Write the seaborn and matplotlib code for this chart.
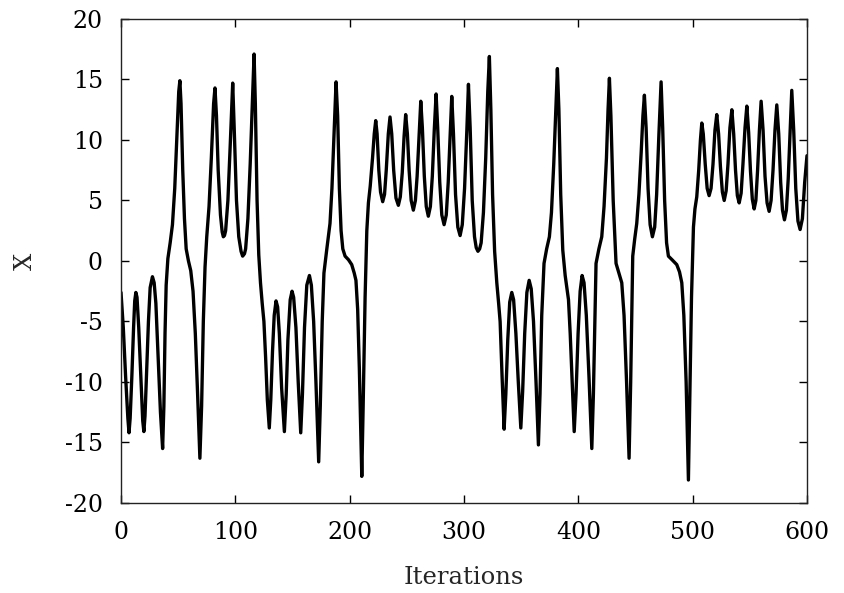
import matplotlib
matplotlib.use("Agg")
import matplotlib.pyplot as plt
import seaborn as sns

# values (iteration, X)
iterations = [
    0, 2, 4, 6, 7, 8, 9.5, 11, 12, 13, 14, 15.5, 17.5, 19, 20, 21, 22.5, 24, 25.5, 27.5,
    29, 30.5, 32.5, 34.5, 36.4, 37.5, 38.5, 39.5, 41, 43, 45, 47, 49, 50.5, 51.5, 52.5,
    54, 55.5, 57, 59, 61, 63, 65, 67, 69, 70.5, 72, 73.5, 75, 77, 79, 81, 82.2, 83.5,
    85, 87, 88.5, 89.5, 90.5, 91.5, 93.5, 95.5, 97.7, 99, 101, 103, 105, 106.4, 108, 109, 111, 113, 115, 116.4,
    117.5, 119, 120.5, 122, 123.5, 125, 126.5, 128, 129.7, 131, 132.5, 134, 135.6, 137,
    138.5, 140.5, 142.9, 144.5, 146, 148, 149.6, 151, 153, 155, 157.2, 158.7, 160.5, 162.5,
    164.8, 166.5, 168.5, 170.5, 172.9, 174.3, 176, 177.5, 179.9, 182.8, 184.5, 186.5, 188.1,
    189.5, 191, 192.5, 194, 196, 199, 201.8, 204, 205.5, 207, 208.5, 210.6, 211.8, 213.5,
    215, 216.4, 218, 220, 221.5, 222.8, 224, 225.5, 227, 228.9, 230.5, 232, 233.8, 235.3,
    236.8, 238.5, 240.5, 242.6, 244.3, 246, 247.6, 249, 250.5, 252, 253.8, 255.7, 257.5,
    259, 260.8, 262.2, 263.6, 265.3, 267, 268.8, 270.6, 272.3, 274, 275.6, 277, 278.8,
    280.6, 282.6, 284.5, 286.2, 288, 289.3, 290.8, 292.6, 294.6, 296.6, 298.5, 300.5, 302.5,
    303.9, 305.4, 307.2, 309.2, 310.7, 312.2, 313.7, 315, 317, 319, 320.8, 322.2, 323.5, 325, 326.8,
    328.7, 330.3, 331.6, 333.3, 335.1, 336.6, 338.3, 340, 341.8, 343.4, 345.4, 347.5, 349.7,
    351.3, 353.1, 355, 357, 358.8, 360.8, 363, 365.1, 366.5, 368, 370, 372.3, 374.7, 376.5,
    378.5, 380.3, 381.7, 383, 384.6, 386.4, 388.5, 391.4, 392.9, 394.6, 396.4, 398, 399.8,
    401.6, 403.3, 405, 407, 409.3, 411.8, 413.2, 414.5, 415.5, 418, 420.5, 422.5, 424.6,
    426, 427.2, 428.5, 430.5, 433, 435.5, 438, 440, 442.2, 444.4, 445.8, 447.6, 449.3,
    451.1, 453, 455, 456.5, 457.8, 459.3, 461, 462.8, 464.8, 466.8, 468.5, 470.5, 472.4,
    473.8, 475.5, 477.2, 478.8, 482, 486.1, 488.5, 490.5, 492.3, 494.3, 496.3, 497.6, 499,
    500.7, 502, 503.6, 505.3, 506.8, 508, 509.3, 511, 512.7, 514.4, 516.1, 517.8, 519.5,
    521.1, 522.7, 524.3, 526, 527.6, 529.3, 530.9, 532.6, 534.3, 535.9, 537.5, 539.1, 540.7,
    542.4, 544, 545.8, 547.4, 549, 550.6, 552.2, 553.8, 555.3, 556.8, 558.4, 559.9, 561.6,
    563.3, 565.1, 566.9, 568.6, 570.3, 572, 573.6, 575.3, 577, 578.6, 580.3, 582, 583.6,
    585.2, 586.7, 588.4, 590.2, 592.1, 594, 596, 598, 600,
]
x_values = [
    -2.6, -5.5, -9.5, -13.0, -14.2, -13.0, -9.5, -5.5, -3.3, -2.6, -3.0, -5.5, -10.0, -13.2, -14.1, -12.8, -9.0, -5.0, -2.2, -1.3,
    -1.8, -3.5, -8.0, -12.5, -15.5, -12.0, -6.0, -2.0, 0.2, 1.5, 3.0, 6.0, 10.5, 14.0, 14.9, 13.0,
    7.5, 3.5, 1.0, 0.0, -0.8, -2.5, -6.0, -11.0, -16.3, -12.0, -5.0, -0.5, 2.0, 4.5, 8.5, 13.0, 14.3, 12.0,
    7.5, 3.8, 2.4, 2.0, 2.1, 2.5, 5.0, 9.5, 14.7, 11.0, 5.0, 2.0, 0.8, 0.4, 0.6, 1.0, 3.5, 8.0, 13.5, 17.1,
    13.0, 5.0, 0.5, -1.8, -3.5, -5.0, -8.0, -11.5, -13.8, -11.5, -7.5, -4.5, -3.3, -3.8,
    -6.0, -10.5, -14.1, -11.0, -6.5, -3.2, -2.5, -3.0, -5.5, -10.0, -14.2, -11.0, -5.5, -2.0,
    -1.2, -2.0, -5.0, -10.0, -16.6, -12.0, -5.0, -1.0, 0.9, 3.1, 6.0, 11.0, 14.8,
    12.0, 6.0, 2.5, 1.0, 0.4, 0.1, -0.3, -1.0, -1.6, -4.0, -9.0, -17.8, -12.0, -3.0,
    2.5, 4.8, 6.2, 8.5, 10.5, 11.6, 10.5, 7.5, 5.7, 4.9, 5.5, 7.5, 10.5, 11.9,
    10.5, 7.5, 5.2, 4.6, 5.3, 7.3, 10.3, 12.1, 10.5, 7.5, 5.0, 4.2, 5.0,
    7.0, 10.5, 13.2, 11.0, 7.0, 4.5, 3.7, 4.5, 7.0, 10.8, 13.8, 11.0, 6.5,
    3.8, 3.0, 3.8, 6.5, 10.5, 13.6, 10.5, 5.5, 2.8, 2.1, 3.0, 6.0, 10.8,
    14.6, 11.0, 5.0, 2.0, 1.1, 0.8, 1.0, 1.5, 4.0, 8.5, 14.0, 16.9, 12.5, 5.5, 0.8,
    -1.8, -3.5, -5.0, -9.5, -13.9, -11.0, -6.5, -3.4, -2.6, -3.2, -6.0, -10.0, -13.8,
    -10.8, -6.0, -2.6, -1.6, -2.3, -5.0, -10.0, -15.2, -11.0, -4.5, -0.2, 1.0, 2.0, 4.0,
    8.0, 12.5, 15.9, 12.5, 5.5, 0.9, -1.2, -3.2, -6.0, -10.0, -14.1, -11.0, -6.0,
    -2.5, -1.2, -1.8, -4.5, -9.5, -15.5, -11.0, -5.0, -0.2, 1.0, 2.0, 4.5, 8.5,
    12.5, 15.1, 12.0, 5.0, -0.2, -1.0, -1.8, -4.5, -10.0, -16.3, -10.0, 0.4, 1.8,
    3.1, 5.5, 9.0, 12.0, 13.7, 11.0, 6.0, 3.0, 2.0, 2.8, 5.5, 10.5, 14.8,
    11.0, 5.0, 1.5, 0.4, 0.1, -0.3, -0.9, -1.8, -4.5, -10.0, -18.1, -11.0, -3.0,
    2.8, 4.3, 5.3, 7.5, 10.0, 11.4, 10.5, 8.0, 6.0, 5.4, 6.0, 8.0, 10.8,
    12.1, 10.5, 7.8, 5.7, 5.0, 5.8, 8.0, 11.0, 12.5, 10.5, 7.5, 5.4, 4.8,
    5.6, 8.0, 11.0, 12.8, 10.6, 7.4, 5.1, 4.3, 5.0, 7.5, 10.8, 13.2, 10.8,
    7.0, 4.8, 4.1, 5.0, 7.5, 10.8, 12.9, 10.5, 6.5, 4.2, 3.4, 4.2, 6.8,
    10.5, 14.1, 10.8, 6.0, 3.3, 2.6, 3.5, 6.5, 8.7,
]

x_ticks = [0, 100, 200, 300, 400, 500, 600]
y_ticks = [-20, -15, -10, -5, 0, 5, 10, 15, 20]

sns.set_style("ticks")
plt.rcParams["font.family"] = ["DejaVu Serif"]
plt.rcParams["axes.unicode_minus"] = False

fig = plt.figure(figsize=(8.45, 5.93), dpi=100)
ax = fig.add_axes([0.1432, 0.1518, 0.8118, 0.8162])

sns.lineplot(x=iterations, y=x_values, ax=ax, color="black", linewidth=2.4)

ax.set_xlim(0, 600)
ax.set_ylim(-20, 20)
ax.set_xticks(x_ticks)
ax.set_yticks(y_ticks)
ax.tick_params(direction="in", top=True, right=True, length=5.5, width=1,
               labelsize=17, colors="black")
ax.tick_params(axis="x", pad=13)
ax.tick_params(axis="y", pad=13)
for side in ax.spines.values():
    side.set_visible(True)
    side.set_linewidth(1)
    side.set_color("#222222")

ax.set_xlabel("Iterations", fontsize=17.5, labelpad=16)
ax.set_ylabel("X", fontsize=17.5, labelpad=20)

fig.savefig("out.png", dpi=100)
